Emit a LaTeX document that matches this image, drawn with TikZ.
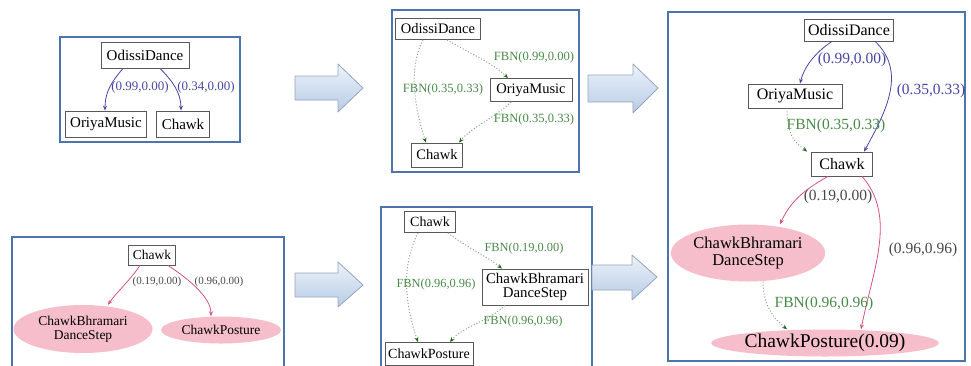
\documentclass[tikz,border=0pt]{standalone}
\usepackage{fontspec}
\setmainfont{Liberation Serif}
\usetikzlibrary{arrows.meta,shapes.geometric}

\definecolor{panelblue}{RGB}{78,116,176}
\definecolor{nodegray}{RGB}{88,88,88}
\definecolor{edgeblue}{RGB}{70,70,165}
\definecolor{fbngreen}{RGB}{72,138,72}
\definecolor{dotgreen}{RGB}{130,165,130}
\definecolor{tipgreen}{RGB}{35,95,35}
\definecolor{edgepink}{RGB}{214,82,132}
\definecolor{pinkfill}{RGB}{246,190,202}
\definecolor{labelgray}{RGB}{72,72,72}
\definecolor{arrowtop}{RGB}{236,242,250}
\definecolor{arrowbot}{RGB}{184,204,230}
\definecolor{arrowline}{RGB}{150,165,186}

\newcommand{\fsz}[1]{\fontsize{#1}{#1}\selectfont}

\tikzset{
  panel/.style={draw=panelblue, line width=1.6pt},
  blockarrow/.style={draw=arrowline, line width=0.8pt, top color=arrowtop, bottom color=arrowbot, line join=round},
  concept/.style={draw=nodegray, line width=0.8pt, fill=white, inner sep=0pt, align=center},
  pinknode/.style={ellipse, fill=pinkfill, inner sep=0pt, align=center},
  blueedge/.style={draw=edgeblue, line width=0.8pt, -{Stealth[length=5pt,width=4pt]}},
  pinkedge/.style={draw=edgepink, line width=0.8pt, -{Stealth[length=5pt,width=4pt]}},
  fbnedge/.style={draw=dotgreen, line width=1pt, dotted, -{Stealth[length=5pt,width=4pt,color=tipgreen]}},
  bluelabel/.style={text=edgeblue, inner sep=0pt},
  fbnlabel/.style={text=fbngreen, inner sep=0pt},
  graylabel/.style={text=labelgray, inner sep=0pt}
}

\begin{document}
\begin{tikzpicture}[x=1pt,y=-1pt]
\useasboundingbox (0,0) rectangle (971,365);

% ---------- frames ----------
\draw[panel] (60,37) rectangle (240,142);
\draw[panel] (392,10) rectangle (579,172);
\draw[panel] (668,12) rectangle (965,361);
\draw[panel] (12,237) rectangle (284,372);
\draw[panel] (381,207) rectangle (592,372);

% ---------- block arrows ----------
\draw[blockarrow] (295,76) -- (338,76) -- (338,64) -- (363,88) -- (338,112) -- (338,100) -- (295,100) -- cycle;
\draw[blockarrow] (588,75) -- (633,75) -- (633,64) -- (658,88) -- (633,113) -- (633,102) -- (588,102) -- cycle;
\draw[blockarrow] (295,273) -- (338,273) -- (338,262) -- (363,285) -- (338,307) -- (338,297) -- (295,297) -- cycle;
\draw[blockarrow] (592,265) -- (632,265) -- (632,255) -- (657,277) -- (632,300) -- (632,290) -- (592,290) -- cycle;

% ---------- first graph ----------
\begin{scope}[every node/.append style={font=\fsz{15}}]
\node[concept, minimum width=88pt, minimum height=26pt] (a1) at (145,55) {OdissiDance};
\node[concept, minimum width=81pt, minimum height=26pt] (a2) at (106,124) {OriyaMusic};
\node[concept, minimum width=53pt, minimum height=26pt] (a3) at (183,124) {Chawk};
\end{scope}
\draw[blueedge] ([xshift=-22pt]a1.south) .. controls +(-12,14) and +(0,-18) .. ([xshift=-1pt]a2.north);
\draw[blueedge] ([xshift=15pt]a1.south) .. controls +(12,12) and +(0,-18) .. ([xshift=-2pt]a3.north);
\node[bluelabel, font=\fsz{13}] (a12) at (140,87) {(0.99,0.00)};
\node[bluelabel, font=\fsz{13}] (a13) at (206,87) {(0.34,0.00)};

% ---------- second graph ----------
\begin{scope}[every node/.append style={font=\fsz{14.5}}]
\node[concept, minimum width=85pt, minimum height=21pt] (b1) at (438,29) {OdissiDance};
\node[concept, minimum width=82pt, minimum height=23pt] (b2) at (531,90) {OriyaMusic};
\node[concept, minimum width=51pt, minimum height=24pt] (b3) at (437,155) {Chawk};
\end{scope}
\draw[fbnedge] ([xshift=9pt]b1.south) .. controls +(20,12) and +(-15,-15) .. ([xshift=-23pt]b2.north);
\draw[fbnedge] ([xshift=-15pt]b1.south) .. controls +(-16,30) and +(-10,-30) .. ([xshift=-11pt]b3.north);
\draw[fbnedge] ([xshift=-20pt]b2.south) .. controls +(-15,15) and +(12,-15) .. ([xshift=22pt]b3.north);
\node[fbnlabel, font=\fsz{12.6}] (b12) at (534,57) {FBN(0.99,0.00)};
\node[fbnlabel, font=\fsz{12.6}] (b13) at (443,89) {FBN(0.35,0.33)};
\node[fbnlabel, font=\fsz{12.6}] (b23) at (534,119) {FBN(0.35,0.33)};

% ---------- merged graph ----------
\begin{scope}[every node/.append style={font=\fsz{16}}]
\node[concept, minimum width=89pt, minimum height=22pt] (c1) at (849,30) {OdissiDance};
\node[concept, minimum width=94pt, minimum height=24pt] (c2) at (795,96) {OriyaMusic};
\node[concept, minimum width=61pt, minimum height=24pt] (c3) at (842,164) {Chawk};
\node[pinknode, minimum width=150pt, minimum height=57pt, font=\fsz{16.5}] (c4) at (748,253) {ChawkBhramari\\DanceStep};
\node[pinknode, minimum width=224pt, minimum height=27pt, font=\fsz{19.5}] (c5) at (825,343) {ChawkPosture(0.09)};
\end{scope}
\draw[blueedge] ([xshift=-17pt]c1.south) .. controls +(-18,12) and +(4,-16) .. ([xshift=5pt]c2.north);
\draw[blueedge] ([xshift=26pt]c1.south) .. controls +(32,30) and +(22,-40) .. ([xshift=22pt]c3.north);
\draw[fbnedge] ([xshift=-8pt]c2.south) .. controls +(0,30) and +(-10,-8) .. ([xshift=-4pt]c3.north west);
\draw[pinkedge] ([xshift=-14pt]c3.south) .. controls +(-25,14) and +(10,-22) .. ([xshift=32pt]c4.north);
\draw[pinkedge] ([xshift=20pt]c3.south) .. controls +(35,40) and +(12,-60) .. ([xshift=36pt]c5.north);
\draw[fbnedge] ([xshift=15pt]c4.south) .. controls +(0,25) and +(-12,-10) .. ([xshift=-38pt]c5.north);
\node[bluelabel, font=\fsz{15.5}] (c12) at (852,60) {(0.99,0.00)};
\node[bluelabel, font=\fsz{15.5}] (c13) at (931,91) {(0.35,0.33)};
\node[fbnlabel, font=\fsz{15.5}] (c23) at (836,126) {FBN(0.35,0.33)};
\node[graylabel, font=\fsz{15.5}] (c34) at (838,197) {(0.19,0.00)};
\node[graylabel, font=\fsz{15.5}] (c35) at (923,250) {(0.96,0.96)};
\node[fbnlabel, font=\fsz{15.5}] (c45) at (824,304) {FBN(0.96,0.96)};

% ---------- Chawk graph ----------
\begin{scope}[every node/.append style={font=\fsz{13.5}}]
\node[concept, minimum width=47pt, minimum height=20pt] (d1) at (152,255) {Chawk};
\node[pinknode, minimum width=139pt, minimum height=48pt] (d2) at (83,329) {ChawkBhramari\\DanceStep};
\node[pinknode, minimum width=120pt, minimum height=27pt] (d3) at (221,330) {ChawkPosture};
\end{scope}
\draw[pinkedge] ([xshift=-12pt]d1.south) .. controls +(-10,15) and +(8,-12) .. ([xshift=25pt]d2.north);
\draw[pinkedge] ([xshift=16pt]d1.south) .. controls +(18,12) and +(0,-20) .. ([xshift=-10pt]d3.north);
\node[graylabel, font=\fsz{11}] (d12) at (157,282) {(0.19,0.00)};
\node[graylabel, font=\fsz{11}] (d13) at (219,282) {(0.96,0.00)};

% ---------- second Chawk graph ----------
\begin{scope}[every node/.append style={font=\fsz{14}}]
\node[concept, minimum width=51pt, minimum height=21pt] (e1) at (430,222) {Chawk};
\node[concept, minimum width=106pt, minimum height=36pt, font=\fsz{14.8}] (e2) at (535,287) {ChawkBhramari\\DanceStep};
\node[concept, minimum width=88pt, minimum height=23pt] (e3) at (429,354) {ChawkPosture};
\end{scope}
\draw[fbnedge] ([xshift=18pt]e1.south) .. controls +(15,12) and +(-15,-12) .. ([xshift=-33pt]e2.north);
\draw[fbnedge] ([xshift=-12pt]e1.south) .. controls +(-18,35) and +(-12,-35) .. ([xshift=-11pt]e3.north);
\draw[fbnedge] ([xshift=-30pt]e2.south) .. controls +(-15,15) and +(12,-15) .. ([xshift=21pt]e3.north);
\node[fbnlabel, font=\fsz{12.4}] (e12) at (524,249) {FBN(0.19,0.00)};
\node[fbnlabel, font=\fsz{12.4}] (e13) at (436,285) {FBN(0.96,0.96)};
\node[fbnlabel, font=\fsz{12.4}] (e23) at (523,322) {FBN(0.96,0.96)};
\end{tikzpicture}
\end{document}
